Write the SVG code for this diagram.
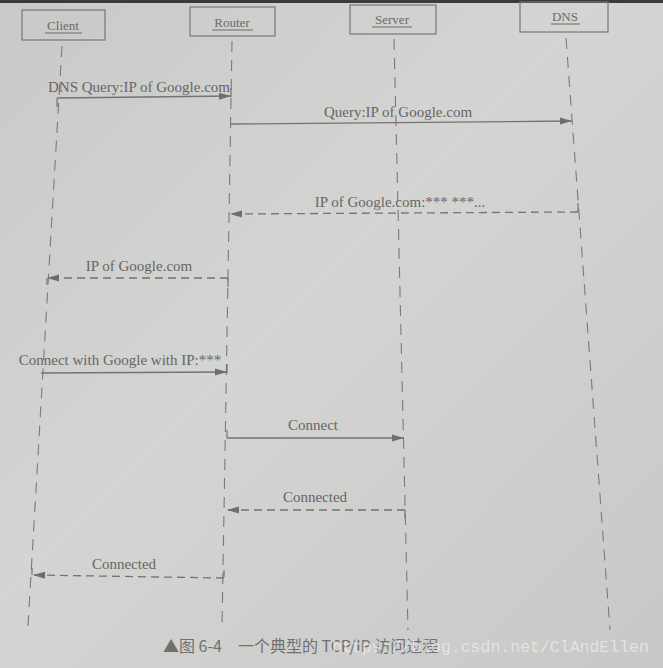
<svg xmlns="http://www.w3.org/2000/svg" width="663" height="668" viewBox="0 0 663 668">
<defs>
<linearGradient id="bg" x1="0" y1="0" x2="1" y2="1">
<stop offset="0" stop-color="#c9c9c7"/>
<stop offset="0.45" stop-color="#d4d4d2"/>
<stop offset="1" stop-color="#c8c8c6"/>
</linearGradient>
<marker id="ah" viewBox="0 0 12 8" refX="12" refY="4" markerWidth="12" markerHeight="8" markerUnits="userSpaceOnUse" orient="auto">
<path d="M0,0.5 L12,4 L0,7.5 Z" fill="#6e6e6e"/>
</marker>
<style>
.box{fill:none;stroke:#777;stroke-width:1.2}
.name{font-family:"Liberation Serif","Times New Roman",serif;font-size:13px;fill:#6a6a6a;text-anchor:middle}
.ul{stroke:#6a6a6a;stroke-width:1}
.life{fill:none;stroke:#7a7a7a;stroke-width:1.1;stroke-dasharray:11 8}
.msg{fill:none;stroke:#737373;stroke-width:1.3;marker-end:url(#ah)}
.ret{fill:none;stroke:#737373;stroke-width:1.3;stroke-dasharray:8 5;marker-end:url(#ah)}
.tick{fill:none;stroke:#737373;stroke-width:1.2}
.lbl{font-family:"Liberation Serif","Times New Roman",serif;font-size:15px;fill:#666;text-anchor:middle}
.cap{font-family:"Noto Sans CJK SC","Liberation Sans",sans-serif;font-size:16px;fill:#707070}
.wm{font-family:"Liberation Mono","Courier New",monospace;font-size:16.5px;fill:#ececec;fill-opacity:0.75}
</style>
</defs>
<rect x="0" y="0" width="663" height="668" fill="url(#bg)"/>
<rect x="0" y="0" width="663" height="3" fill="#3a3a3a"/>

<g id="client">
<rect class="box" x="22" y="10" width="83" height="30"/>
<text class="name" x="63" y="30">Client</text>
<line class="ul" x1="45" y1="33" x2="82" y2="33"/>
<path class="life" d="M62,46 L28,626"/>
</g>
<g id="router">
<rect class="box" x="190" y="7" width="85" height="29"/>
<text class="name" x="232" y="27">Router</text>
<line class="ul" x1="212" y1="30" x2="253" y2="30"/>
<path class="life" d="M232,41 L222,628"/>
</g>
<g id="server">
<rect class="box" x="350" y="5" width="86" height="29"/>
<text class="name" x="392" y="24">Server</text>
<line class="ul" x1="372" y1="27" x2="412" y2="27"/>
<path class="life" d="M394,39 L408,630"/>
</g>
<g id="dns">
<rect class="box" x="520" y="2" width="88" height="30"/>
<text class="name" x="565" y="21">DNS</text>
<line class="ul" x1="551" y1="24" x2="580" y2="24"/>
<path class="life" d="M566,38 L610,630"/>
</g>

<g id="connectors">
<path class="tick" d="M57,107 L57,98"/>
<path class="msg" d="M57,98 L231,96"/>
<path class="tick" d="M231,88 L231,97"/>
<path class="msg" d="M231,124 L572,121"/>
<path class="tick" d="M578,203 L578,212"/>
<path class="ret" d="M578,212 L230,214"/>
<path class="tick" d="M228,287 L228,278"/>
<path class="ret" d="M228,278 L47,278"/>
<path class="tick" d="M47,278 L47,285"/>
<path class="msg" d="M41,373 L227,372"/>
<path class="tick" d="M227,364 L227,373"/>
<path class="tick" d="M227,430 L227,438"/>
<path class="msg" d="M227,438 L404,438"/>
<path class="tick" d="M405,510 L405,518"/>
<path class="ret" d="M405,510 L227,510"/>
<path class="tick" d="M224,577 L224,570"/>
<path class="ret" d="M224,578 L33,575"/>
<path class="tick" d="M32,575 L32,568"/>
</g>

<g id="labels">
<text class="lbl" x="139" y="92">DNS Query:IP of Google.com</text>
<text class="lbl" x="398" y="117">Query:IP of Google.com</text>
<text class="lbl" x="400" y="207">IP of Google.com:*** ***...</text>
<text class="lbl" x="139" y="271">IP of Google.com</text>
<text class="lbl" x="120" y="365">Connect with Google with IP:***</text>
<text class="lbl" x="313" y="430">Connect</text>
<text class="lbl" x="315" y="502">Connected</text>
<text class="lbl" x="124" y="569">Connected</text>
</g>

<g id="caption">
<text class="cap" x="163" y="652">▲图 6-4　一个典型的 TCP/IP 访问过程</text>
<text class="wm" x="332" y="652">https://blog.csdn.net/ClAndEllen</text>
</g>
</svg>
